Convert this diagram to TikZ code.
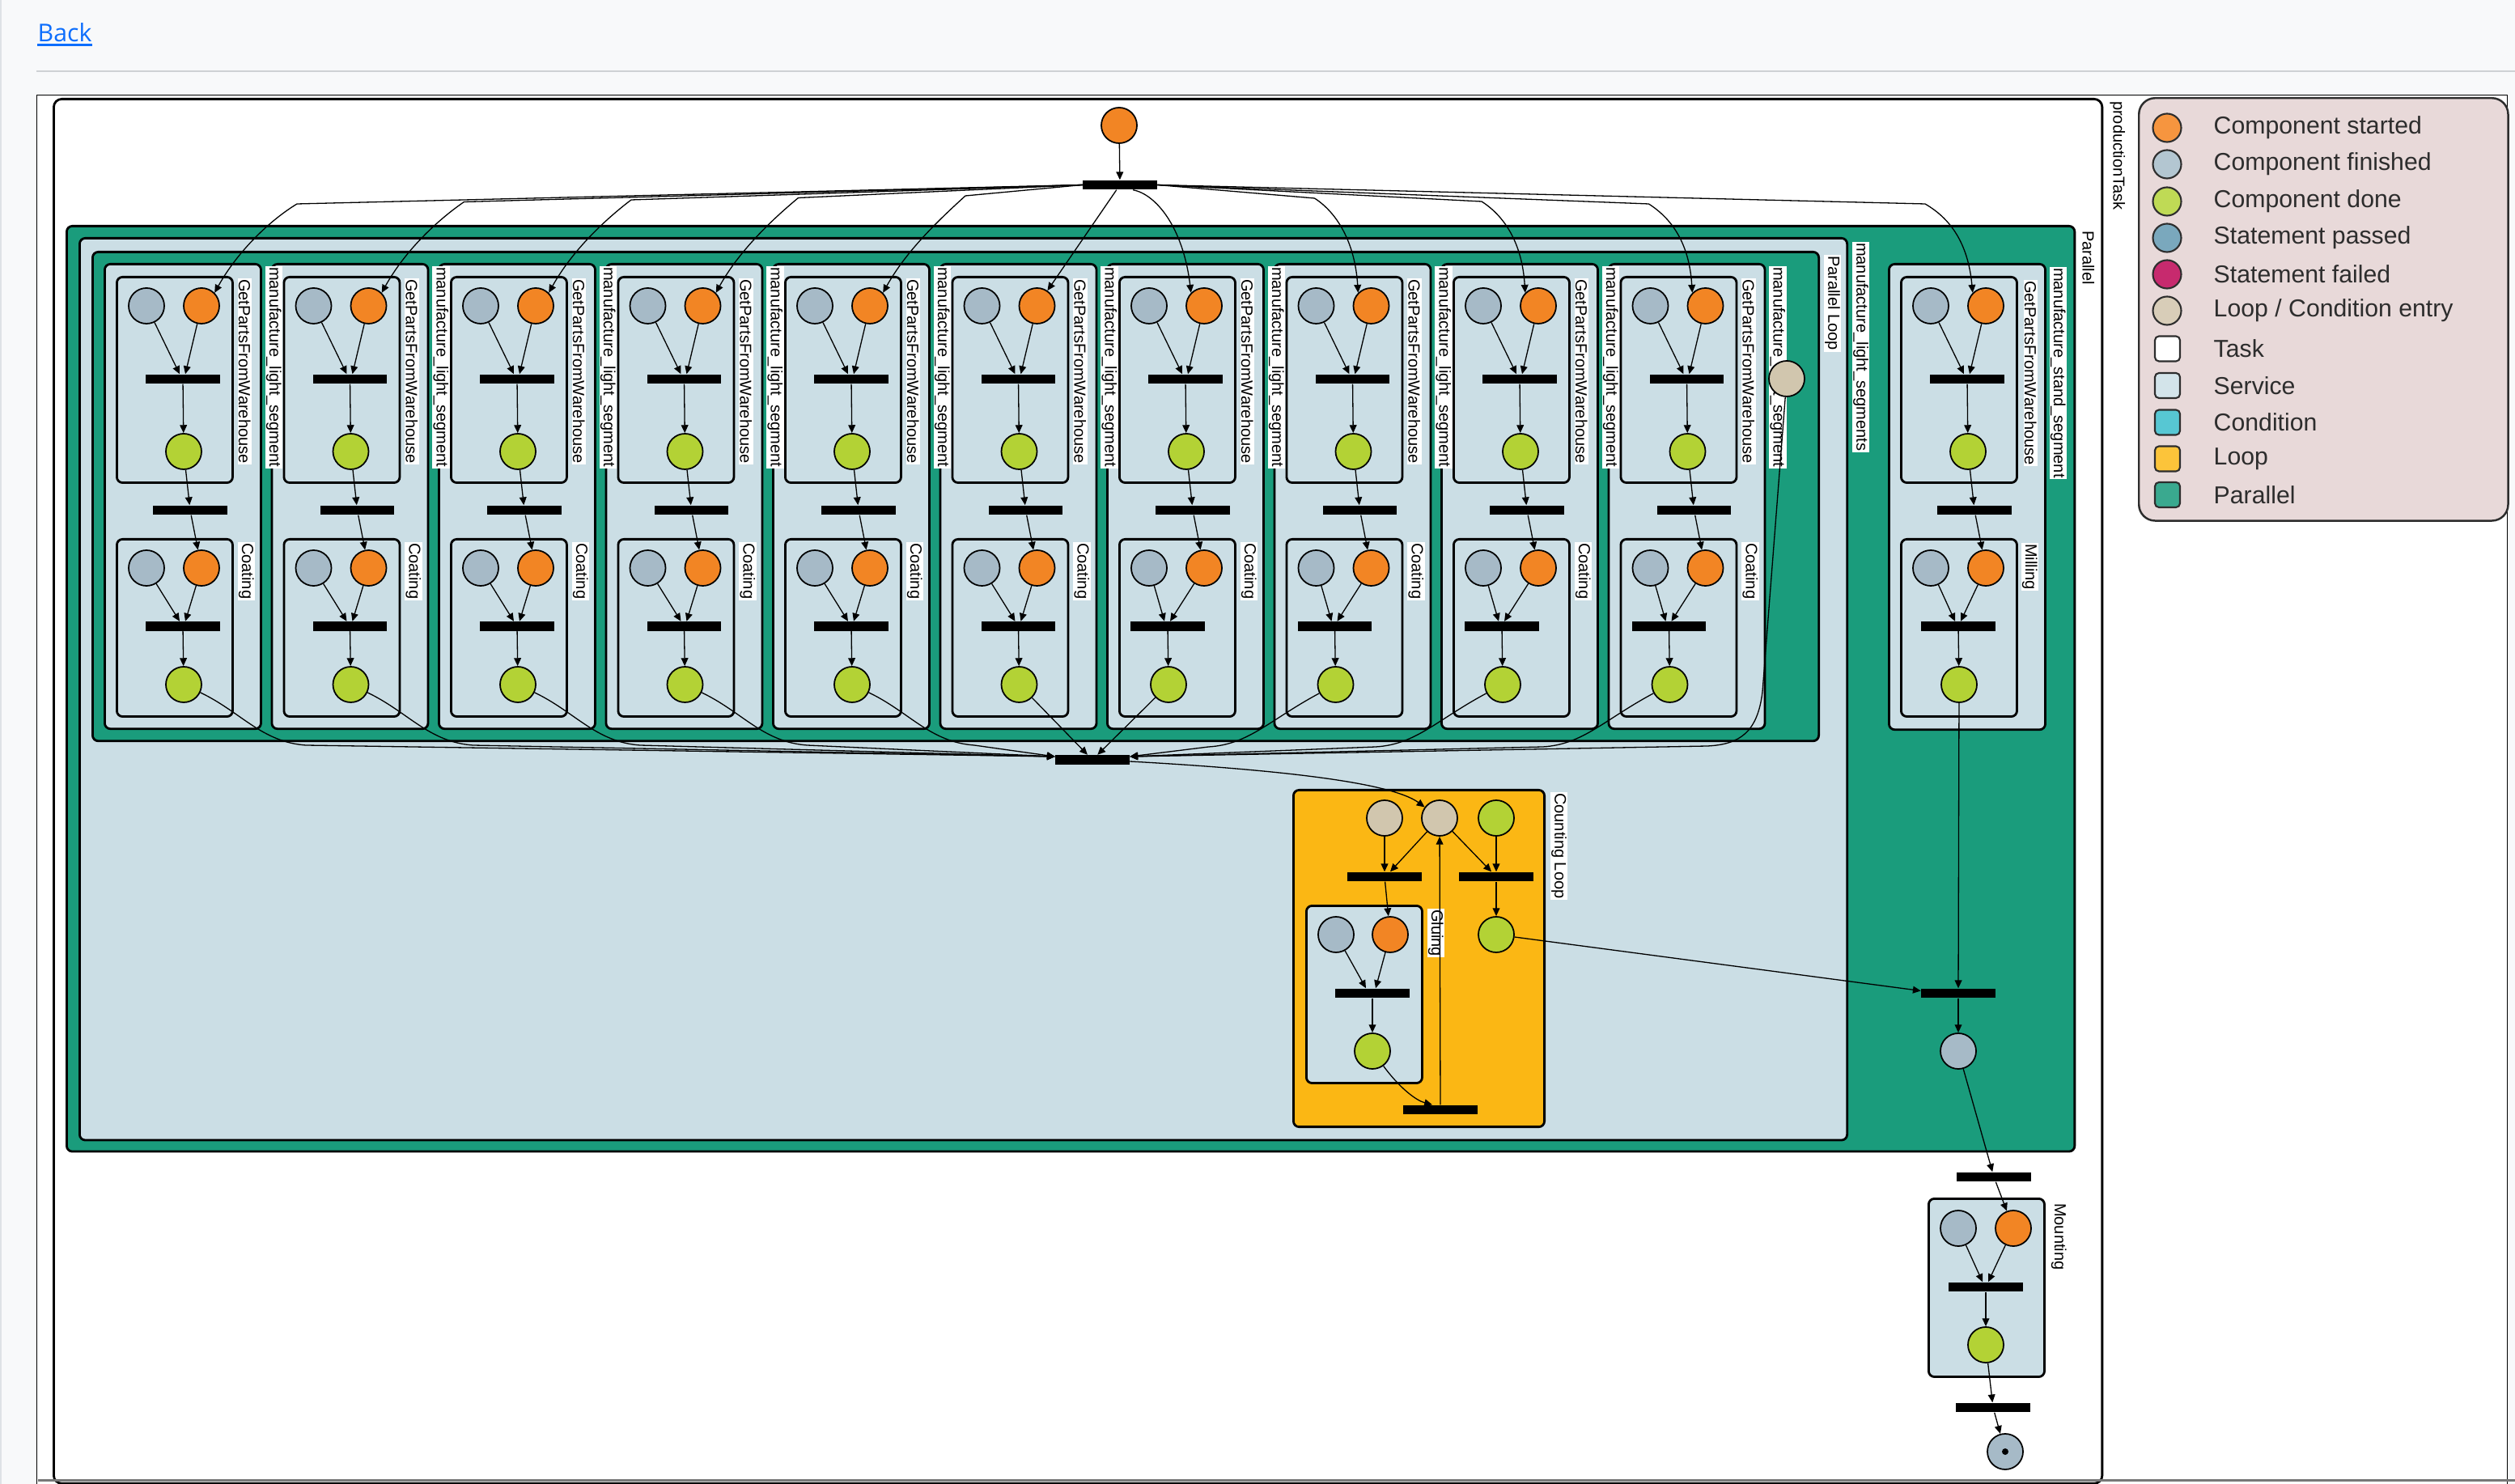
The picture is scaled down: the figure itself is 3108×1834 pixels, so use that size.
\documentclass[tikz,border=0pt]{standalone}
\usepackage{xcolor}
\usepackage{fontspec}
\setmainfont{Liberation Sans}
\newfontfamily\linkfont{Open Sans}
\usepackage{tikz}
\usetikzlibrary{arrows.meta, positioning, calc}
\definecolor{pageBg}{RGB}{248, 249, 250}
\definecolor{pageEdge}{RGB}{222, 226, 230}
\definecolor{ruleGray}{RGB}{206, 209, 212}
\definecolor{linkBlue}{RGB}{13, 110, 253}
\definecolor{scrollGray}{RGB}{120, 120, 120}
\definecolor{startOrange}{RGB}{242, 133, 36}
\definecolor{finishGray}{RGB}{166, 186, 199}
\definecolor{doneGreen}{RGB}{179, 210, 53}
\definecolor{entryBeige}{RGB}{209, 198, 174}
\definecolor{serviceBlue}{RGB}{203, 222, 229}
\definecolor{parallelGreen}{RGB}{26, 156, 124}
\definecolor{loopYellow}{RGB}{251, 183, 20}
\definecolor{legendBg}{RGB}{232, 217, 217}
\definecolor{legendLine}{RGB}{45, 45, 45}
\definecolor{lgStarted}{RGB}{246, 149, 63}
\definecolor{lgFinished}{RGB}{179, 198, 209}
\definecolor{lgDone}{RGB}{191, 218, 85}
\definecolor{lgPassed}{RGB}{122, 168, 189}
\definecolor{lgFailed}{RGB}{199, 42, 110}
\definecolor{lgEntry}{RGB}{216, 205, 184}
\definecolor{lgService}{RGB}{211, 228, 234}
\definecolor{lgCondition}{RGB}{87, 199, 211}
\definecolor{lgLoop}{RGB}{252, 196, 58}
\definecolor{lgParallel}{RGB}{58, 169, 143}

\begin{document}
\begin{tikzpicture}[
    x=0.01cm, y=-0.01cm,
    place/.style={
        circle,
        draw,
        line width=0.5pt,
        minimum size=0.44cm,
        inner sep=0pt
    },
    started/.style={place, fill=startOrange},
    finished/.style={place, fill=finishGray},
    done/.style={place, fill=doneGreen},
    entry/.style={place, fill=entryBeige},
    sync/.style={
        rectangle,
        fill=black,
        minimum width=0.91cm,
        minimum height=0.11cm,
        inner sep=0pt
    },
    flow/.style={
        -{Triangle[length=2.8pt, width=2.5pt]},
        line width=0.37pt
    },
    box/.style={
        rectangle,
        draw,
        line width=0.8pt,
        rounded corners=0.07cm,
        anchor=north west,
        inner sep=0pt
    },
    svcbox/.style={box, fill=serviceBlue},
    parbox/.style={box, fill=parallelGreen},
    loopbox/.style={box, fill=loopYellow},
    taskbox/.style={box, fill=white, rounded corners=0.1cm},
    boxlabel/.style={
        font=\fontsize{5.7}{6}\selectfont,
        fill=white,
        inner sep=0.4pt,
        rotate=-90,
        anchor=south west
    },
    legendmark/.style={
        circle,
        draw=legendLine,
        line width=0.6pt,
        minimum size=0.35cm,
        inner sep=0pt
    },
    legendsq/.style={
        rectangle,
        draw=legendLine,
        line width=0.6pt,
        rounded corners=0.05cm,
        minimum size=0.31cm,
        inner sep=0pt
    },
    legendtext/.style={
        font=\fontsize{8.6}{10}\selectfont,
        text=legendLine,
        anchor=west,
        inner sep=0pt
    }
]

% Page, link and frame
\useasboundingbox (0,0) rectangle (3108,1834);
\fill[pageBg] (0,0) rectangle (3108,1834);
\fill[pageEdge] (0,0) rectangle (2,1834);
\node[font=\linkfont\fontsize{8.6}{10}\selectfont, text=linkBlue, anchor=base west, inner sep=0pt] (back) at (46,52) {Back};
\draw[linkBlue, line width=0.025cm] ([yshift=-0.035cm]back.base west) -- ([yshift=-0.035cm]back.base east);
\draw[ruleGray, line width=0.02cm] (45,88) -- (3108,88);
\draw[fill=white, line width=0.01cm] (45,118) rectangle (3098,1850);

% Containers
\node[taskbox, minimum width=25.3cm, minimum height=17.1cm] (prod) at (65,121) {};
\node[parbox, minimum width=24.8cm, minimum height=11.43cm] (par) at (81,278) {};
\node[svcbox, minimum width=21.83cm, minimum height=11.14cm] (lsegs) at (97,293) {};
\node[parbox, minimum width=21.32cm, minimum height=6.04cm] (ploop) at (113,310) {};
\foreach \i in {0,...,9} {
    \pgfmathsetmacro{\sx}{128+206.5*\i}
    \node[svcbox, minimum width=1.93cm, minimum height=5.74cm] (seg\i) at (\sx,325) {};
    \node[svcbox, minimum width=1.43cm, minimum height=2.54cm] (gp\i) at (\sx+15,341) {};
    \node[svcbox, minimum width=1.43cm, minimum height=2.19cm] (ct\i) at (\sx+15,665) {};
}
\node[svcbox, minimum width=1.93cm, minimum height=5.75cm] (stand) at (2333,325) {};
\node[svcbox, minimum width=1.43cm, minimum height=2.54cm] (sgp) at (2348,341) {};
\node[svcbox, minimum width=1.43cm, minimum height=2.19cm] (mill) at (2348,665) {};
\node[loopbox, minimum width=3.1cm, minimum height=4.16cm] (cloop) at (1597,975) {};
\node[svcbox, minimum width=1.43cm, minimum height=2.19cm] (glue) at (1613,1118) {};
\node[svcbox, minimum width=1.43cm, minimum height=2.2cm] (mount) at (2382,1480) {};

% Container labels
\node[boxlabel] (prodl) at ([xshift=0.06cm, yshift=-0.02cm]prod.north east) {productionTask};
\node[boxlabel] (parl) at ([xshift=0.06cm, yshift=-0.05cm]par.north east) {Parallel};
\node[boxlabel] (lsegsl) at ([xshift=0.04cm, yshift=-0.05cm]lsegs.north east) {manufacture\_light\_segments};
\node[boxlabel] (ploopl) at ([xshift=0.04cm, yshift=-0.04cm]ploop.north east) {Parallel Loop};
\node[boxlabel] (standl) at ([xshift=0.03cm, yshift=-0.04cm]stand.north east) {manufacture\_stand\_segment};
\node[boxlabel] (sgpl) at ([xshift=0.06cm, yshift=-0.04cm]sgp.north east) {GetPartsFromWarehouse};
\node[boxlabel] (milll) at ([xshift=0.03cm, yshift=-0.05cm]mill.north east) {Milling};
\node[boxlabel] (cloopl) at ([xshift=0.05cm, yshift=-0.03cm]cloop.north east) {Counting Loop};
\node[boxlabel] (gluel) at ([xshift=0.04cm, yshift=-0.04cm]glue.north east) {Gluing};
\node[boxlabel] (mountl) at ([xshift=0.05cm, yshift=-0.05cm]mount.north east) {Mounting};

% Light segments
\foreach \i in {0,...,9} {
    \pgfmathsetmacro{\sx}{128+206.5*\i}
    \pgfmathsetmacro{\cx}{\sx+98+(\i>5)*(-22)}
    \node[boxlabel] (segl\i) at ([xshift=0.03cm, yshift=-0.03cm]seg\i.north east) {manufacture\_light\_segment};
    \node[boxlabel] (gpl\i) at ([xshift=0.04cm, yshift=-0.02cm]gp\i.north east) {GetPartsFromWarehouse};
    \node[boxlabel] (ctl\i) at ([xshift=0.04cm, yshift=-0.04cm]ct\i.north east) {Coating};
    \node[finished] (gpf\i) at (\sx+53,378) {};
    \node[started] (gps\i) at (\sx+121,378) {};
    \node[sync] (gpb\i) at (\sx+98,468.5) {};
    \node[done] (gpd\i) at (\sx+99,558) {};
    \node[sync] (mid\i) at (\sx+107,630.5) {};
    \node[finished] (ctf\i) at (\sx+53,702) {};
    \node[started] (cts\i) at (\sx+121,702) {};
    \node[sync] (ctb\i) at (\cx,774) {};
    \node[done] (ctd\i) at (\cx+1,846) {};
    \draw[flow] (gpf\i) -- ([xshift=-0.04cm]gpb\i.north);
    \draw[flow] (gps\i) -- ([xshift=0.03cm]gpb\i.north);
    \draw[flow] (gpb\i) -- (gpd\i);
    \draw[flow] (gpd\i) -- (mid\i);
    \draw[flow] (mid\i) -- (cts\i);
    \draw[flow] (ctf\i) -- ([xshift=-0.04cm]ctb\i.north);
    \draw[flow] (cts\i) -- ([xshift=0.03cm]ctb\i.north);
    \draw[flow] (ctb\i) -- (ctd\i);
}

% Stand segment
\node[finished] (sgpf) at (2386,378) {};
\node[started] (sgps) at (2454,378) {};
\node[sync] (sgpb) at (2431,468.5) {};
\node[done] (sgpd) at (2432,558) {};
\node[sync] (smid) at (2440,630.5) {};
\node[finished] (smf) at (2386,702) {};
\node[started] (sms) at (2454,702) {};
\node[sync] (smb) at (2420,774) {};
\node[done] (smd) at (2421,846) {};
\draw[flow] (sgpf) -- ([xshift=-0.04cm]sgpb.north);
\draw[flow] (sgps) -- ([xshift=0.03cm]sgpb.north);
\draw[flow] (sgpb) -- (sgpd);
\draw[flow] (sgpd) -- (smid);
\draw[flow] (smid) -- (sms);
\draw[flow] (smf) -- ([xshift=-0.04cm]smb.north);
\draw[flow] (sms) -- ([xshift=0.03cm]smb.north);
\draw[flow] (smb) -- (smd);

% Start, fork and join
\node[started] (start) at (1383,155) {};
\node[sync] (fork) at (1384,228.5) {};
\node[sync] (join) at (1350,939) {};
\node[entry] (lpe) at (2208,468) {};
\draw[flow] (start) -- (fork);
\foreach \i in {0,...,4} {
    \pgfmathsetmacro{\ox}{249+206.5*\i}
    \pgfmathsetmacro{\cy}{252-2.5*\i}
    \draw[flow] (fork.west) -- (\ox+118,\cy) .. controls (\ox+85,272) and (\ox+45,310) .. (gps\i.north east);
}
\draw[flow] (fork) -- (gps5);
\draw[flow] ([xshift=-0.3cm]fork.south east) .. controls (1428,240) and (1462,280) .. (gps6.north west);
\foreach \i/\cy in {7/245, 8/249, 9/252} {
    \pgfmathsetmacro{\ox}{249+206.5*\i}
    \draw[flow] (fork.east) -- (\ox-70,\cy) .. controls (\ox-42,\cy+18) and (\ox-20,300) .. (gps\i.north west);
}
\draw[flow] (fork.east) -- (2379,252) .. controls (2410,270) and (2432,300) .. (sgps.north west);

\foreach \i in {0,...,4} {
    \pgfmathsetmacro{\sx}{128+206.5*\i}
    \draw[flow] (ctd\i) .. controls (\sx+170,880) and (\sx+195,917) .. (\sx+250,921) -- ([yshift=0.04cm]join.west);
}
\draw[flow] (ctd5) -- (join);
\draw[flow] (ctd6) -- (join);
\foreach \i in {7,8,9} {
    \pgfmathsetmacro{\sx}{128+206.5*\i}
    \draw[flow] (ctd\i) .. controls (\sx-5,890) and (\sx-30,920) .. (\sx-80,923) -- ([yshift=0.04cm]join.east);
}
\draw[flow] (lpe) -- (2178,855) .. controls (2172,905) and (2150,920) .. (2110,922) -- ([yshift=0.04cm]join.east);

% Counting loop
\node[entry] (cb1) at (1711,1011) {};
\node[entry] (cb2) at (1779,1011) {};
\node[done] (cd1) at (1849,1011) {};
\node[sync] (cbl) at (1711,1083.5) {};
\node[sync] (cbr) at (1849,1083.5) {};
\node[finished] (glf) at (1651,1155) {};
\node[started] (gls) at (1718,1155) {};
\node[sync] (glb) at (1696,1227.5) {};
\node[done] (gld) at (1696,1299) {};
\node[done] (cd2) at (1849,1155) {};
\node[sync] (cbb) at (1780,1371.5) {};
\draw[flow] ([yshift=-0.02cm]join.east) .. controls (1650,955) and (1730,975) .. (cb2);
\draw[flow] (cb1) -- (cbl.north);
\draw[flow] (cb2) -- ([xshift=0.07cm]cbl.north);
\draw[flow] (cb2) -- ([xshift=-0.06cm]cbr.north);
\draw[flow] (cd1) -- (cbr.north);
\draw[flow] (cbl) -- (gls);
\draw[flow] (cbr) -- (cd2);
\draw[flow] (glf) -- ([xshift=-0.08cm]glb.north);
\draw[flow] (gls) -- ([xshift=0.04cm]glb.north);
\draw[flow] (glb) -- (gld);
\draw[flow] (gld) .. controls (1730,1345) and (1750,1360) .. ([xshift=-0.1cm]cbb.north);
\draw[flow] (cbb) -- (cb2);

% Closing of the parallel block and mounting
\node[sync] (pjoin) at (2420,1227.5) {};
\node[finished] (pfin) at (2420,1299) {};
\node[sync] (mfork) at (2464,1454.5) {};
\node[finished] (mtf) at (2420,1518) {};
\node[started] (mts) at (2488,1518) {};
\node[sync] (mtb) at (2454,1590.5) {};
\node[done] (mtd) at (2454,1662) {};
\node[sync] (endbar) at (2463,1739.5) {};
\node[finished] (endp) at (2478,1794) {};
\node[circle, fill=black, minimum size=0.08cm, inner sep=0pt] (endd) at (endp) {};
\draw[flow] (cd2) -- ([yshift=0.03cm]pjoin.west);
\draw[flow] (smd) -- (pjoin);
\draw[flow] (pjoin) -- (pfin);
\draw[flow] (pfin) -- (mfork);
\draw[flow] (mfork) -- (mts);
\draw[flow] (mtf) -- ([xshift=-0.04cm]mtb.north);
\draw[flow] (mts) -- ([xshift=0.03cm]mtb.north);
\draw[flow] (mtb) -- (mtd);
\draw[flow] (mtd) -- (endbar);
\draw[flow] (endbar) -- (endp);

\draw[scrollGray, line width=0.03cm] (47,1829.5) -- (3108,1829.5);

% Legend
\node[box, draw=legendLine, line width=0.7pt, fill=legendBg, rounded corners=0.2cm, minimum width=4.56cm, minimum height=5.22cm] (legend) at (2642,120) {};
\foreach \n/\y/\c/\t in {1/158/lgStarted/Component started, 2/203/lgFinished/Component finished, 3/249/lgDone/Component done, 4/294/lgPassed/Statement passed, 5/339/lgFailed/Statement failed, 6/384/lgEntry/{Loop / Condition entry}} {
    \node[legendmark, fill=\c] (lm\n) at (2678,\y) {};
    \node[legendtext] (lt\n) at (2735,\y) {\t};
}
\foreach \n/\y/\c/\t in {7/431/white/Task, 8/476.5/lgService/Service, 9/522/lgCondition/Condition, 10/567/lgLoop/Loop, 11/611.5/lgParallel/Parallel} {
    \node[legendsq, fill=\c] (lm\n) at (2678.5,\y) {};
    \node[legendtext] (lt\n) at (2735,\y) {\t};
}

\end{tikzpicture}
\end{document}
